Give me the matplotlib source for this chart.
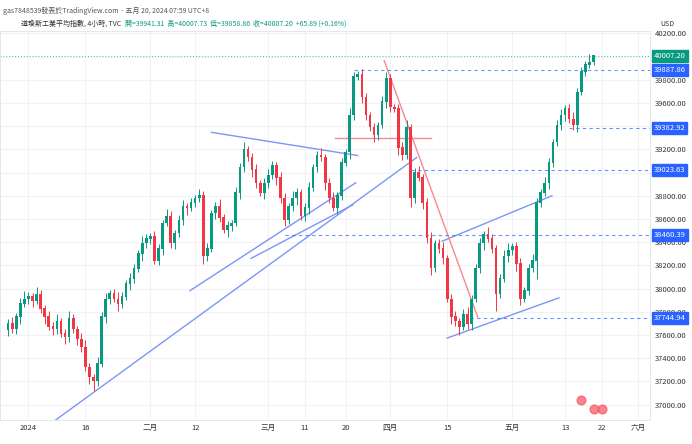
import numpy as np
import matplotlib.pyplot as plt
from matplotlib import font_manager

# CJK字體: 找出已安裝的
names = {f.name for f in font_manager.fontManager.ttflist}
cjk = [n for n in ["Noto Sans CJK TC", "Noto Sans CJK JP", "Noto Sans CJK SC", "Noto Sans TC"] if n in names]
plt.rcParams["font.family"] = cjk + ["DejaVu Sans"]

# 4小時收盤價
closes = [37695, 37650, 37755, 37870, 37910, 37930, 37895, 37950, 37825, 37755,
          37670, 37650, 37720, 37610, 37580, 37740, 37650, 37565, 37495, 37320,
          37235, 37200, 37350, 37755, 37910, 37955, 37910, 37870, 37930, 38040,
          38085, 38170, 38300, 38390, 38430, 38450, 38240, 38345, 38565, 38625,
          38390, 38475, 38590, 38710, 38695, 38740, 38780, 38800, 38280, 38345,
          38650, 38710, 38610, 38505, 38540, 38565, 38825, 39045, 39200, 39130,
          39025, 38910, 38825, 38910, 38975, 39060, 38955, 38780, 38590, 38710,
          38780, 38825, 38625, 38695, 38870, 39045, 39150, 39130, 38910, 38780,
          38695, 38800, 39085, 39175, 39495, 39825, 39845, 39650, 39495, 39390,
          39320, 39410, 39610, 39810, 39565, 39550, 39215, 39150, 39390, 38780,
          39000, 38955, 38740, 38435, 38175, 38390, 38345, 38260, 37910, 37755,
          37720, 37670, 37780, 37695, 37910, 38175, 38390, 38470, 38430, 38345,
          37955, 38085, 38280, 38330, 38360, 38215, 37910, 37980, 38175, 38240,
          38740, 38825, 38910, 39085, 39260, 39410, 39495, 39550, 39460, 39410,
          39695, 39870, 39930, 39950, 40007.2]
first_open = 37640
upper_wick = [40, 60, 30, 50, 70, 40, 30, 60, 40, 30, 50, 40, 60, 30, 40, 70, 40, 30, 50, 60,
              40, 30, 60, 40, 50, 30, 40, 60, 40, 30, 50, 40, 30, 60, 40, 30, 50, 40, 30, 60,
              40, 30, 40, 50, 30, 40, 30, 60, 40, 50, 30, 40, 60, 30, 40, 30, 50, 40, 60, 30,
              40, 50, 30, 40, 60, 40, 30, 50, 40, 30, 60, 40, 30, 40, 50, 30, 40, 60, 30, 40,
              50, 30, 40, 30, 60, 40, 30, 50, 40, 30, 40, 30, 50, 60, 40, 30, 40, 50, 60, 30,
              40, 60, 30, 40, 50, 30, 40, 60, 30, 40, 50, 30, 40, 60, 30, 40, 50, 30, 60, 40,
              30, 40, 50, 60, 30, 40, 50, 30, 40, 60, 40, 30, 50, 40, 30, 40, 50, 30, 40, 60,
              30, 40, 30, 70, 10]
lower_wick = [50, 30, 40, 60, 30, 40, 50, 30, 40, 60, 30, 50, 40, 30, 60, 40, 30, 50, 40, 30,
              60, 80, 40, 30, 50, 40, 30, 60, 40, 30, 50, 40, 30, 60, 40, 50, 30, 40, 60, 30,
              40, 50, 30, 40, 60, 30, 40, 30, 70, 40, 30, 50, 40, 30, 60, 40, 30, 50, 40, 30,
              60, 40, 30, 50, 40, 30, 60, 40, 50, 30, 40, 60, 30, 40, 50, 30, 40, 30, 60, 40,
              30, 50, 40, 30, 60, 40, 30, 50, 40, 30, 60, 40, 30, 50, 40, 30, 60, 40, 30, 80,
              40, 30, 50, 40, 60, 30, 40, 50, 30, 60, 40, 70, 30, 40, 50, 30, 40, 60, 30, 40,
              150, 40, 30, 50, 40, 60, 50, 30, 40, 30, 160, 40, 30, 50, 40, 30, 40, 50, 30, 40,
              60, 30, 40, 30, 20]

tick_idx = [5, 19, 35, 46, 64, 73, 83, 94, 108, 124, 137, 146, 155]
tick_labels = ["2024", "16", "二月", "12", "三月", "11", "20", "四月", "15", "五月", "13", "22", "六月"]
price_ticks = np.arange(37000, 40201, 200)

# 水平價位線: (價格, 起點索引)
levels = [39887.86, 39382.92, 39023.63, 38460.39, 37744.94]
level_start = [85, 138, 99, 68, 113.5]
last_price = 40007.20

# 趨勢線 (索引, 價格)
blue_lines = [((11.75, 36868), (100.5, 39130)),
              ((44.75, 37982), (85.5, 38912)),
              ((50, 39347), (86, 39147)),
              ((59.75, 38260), (84.75, 38721)),
              ((106.75, 38408), (133.75, 38800)),
              ((108, 37573), (135.5, 37920))]
red_lines = [((92.5, 39965), (115.5, 37755)),
             ((80.5, 39295), (104, 39295))]

UP = "#089981"
DOWN = "#F23645"
BLUE = "#2962FF"

closes = np.array(closes, dtype=float)
opens = np.concatenate([[first_open], closes[:-1]])
highs = np.maximum(opens, closes) + np.array(upper_wick)
lows = np.minimum(opens, closes) - np.array(lower_wick)
idx = np.arange(len(closes))

fig = plt.figure(figsize=(6.92, 4.44), dpi=100)
ax = fig.add_axes([0.0, 0.055, 0.94, 0.875])
ax.set_xlim(-2, 158)
ax.set_ylim(36870, 40220)

cols = [UP if c >= o else DOWN for o, c in zip(opens, closes)]
ax.vlines(idx, lows, highs, colors=cols, linewidth=0.7, zorder=3)
ax.bar(idx, np.abs(closes - opens) + 4, bottom=np.minimum(opens, closes), width=0.65,
       color=cols, zorder=4)

for (a, b) in blue_lines:
    ax.plot([a[0], b[0]], [a[1], b[1]], color="#7B97F5", linewidth=1, zorder=2)
for (a, b) in red_lines:
    ax.plot([a[0], b[0]], [a[1], b[1]], color="#F48A8F", linewidth=1, zorder=2)

for p, s in zip(levels, level_start):
    ax.plot([s, 158], [p, p], color=BLUE, linestyle=(0, (3, 3)), linewidth=0.8, alpha=0.7, zorder=2)
    ax.text(1.005, p, f"{p:.2f}", transform=ax.get_yaxis_transform(), fontsize=5.5, color="white",
            va="center", ha="left", zorder=10,
            bbox=dict(boxstyle="square,pad=0.25", fc=BLUE, ec=BLUE))
ax.axhline(last_price, color=UP, linestyle=(0, (1, 2)), linewidth=0.7, alpha=0.7)
ax.text(1.005, last_price, f"{last_price:.2f}", transform=ax.get_yaxis_transform(), fontsize=5.5,
        color="white", va="center", ha="left", zorder=10,
        bbox=dict(boxstyle="square,pad=0.25", fc=UP, ec=UP))

ax.set_xticks(tick_idx)
ax.set_xticklabels(tick_labels, fontsize=5.5, color="#333333")
ax.set_yticks(price_ticks)
ax.set_yticklabels([f"{p:.2f}" for p in price_ticks], fontsize=5.5, color="#333333")
ax.yaxis.tick_right()
ax.tick_params(length=0, pad=3)
ax.grid(color="#F0F2F5", linewidth=0.8)
for s in ax.spines.values():
    s.set_color("#E0E3EB")
    s.set_linewidth(0.6)

# 事件圖標
ax.scatter([141, 144, 146], [37040, 36960, 36960], s=40, color="#F7525F", alpha=0.7, zorder=5)

fig.text(0.005, 0.985, "gas7848539發表於TradingView.com · 五月 20, 2024 07:59 UTC+8",
         fontsize=5, color="#555555", va="top")
fig.text(0.03, 0.955, "道瓊斯工業平均指數, 4小時, TVC", fontsize=5, color="#333333", va="top")
fig.text(0.18, 0.955, "開=39941.31  高=40007.73  低=39858.86  收=40007.20  +65.89 (+0.16%)",
         fontsize=5, color=UP, va="top")
fig.text(0.965, 0.955, "USD", fontsize=5, color="#333333", va="top", ha="center")

fig.savefig("out.png", dpi=100)
